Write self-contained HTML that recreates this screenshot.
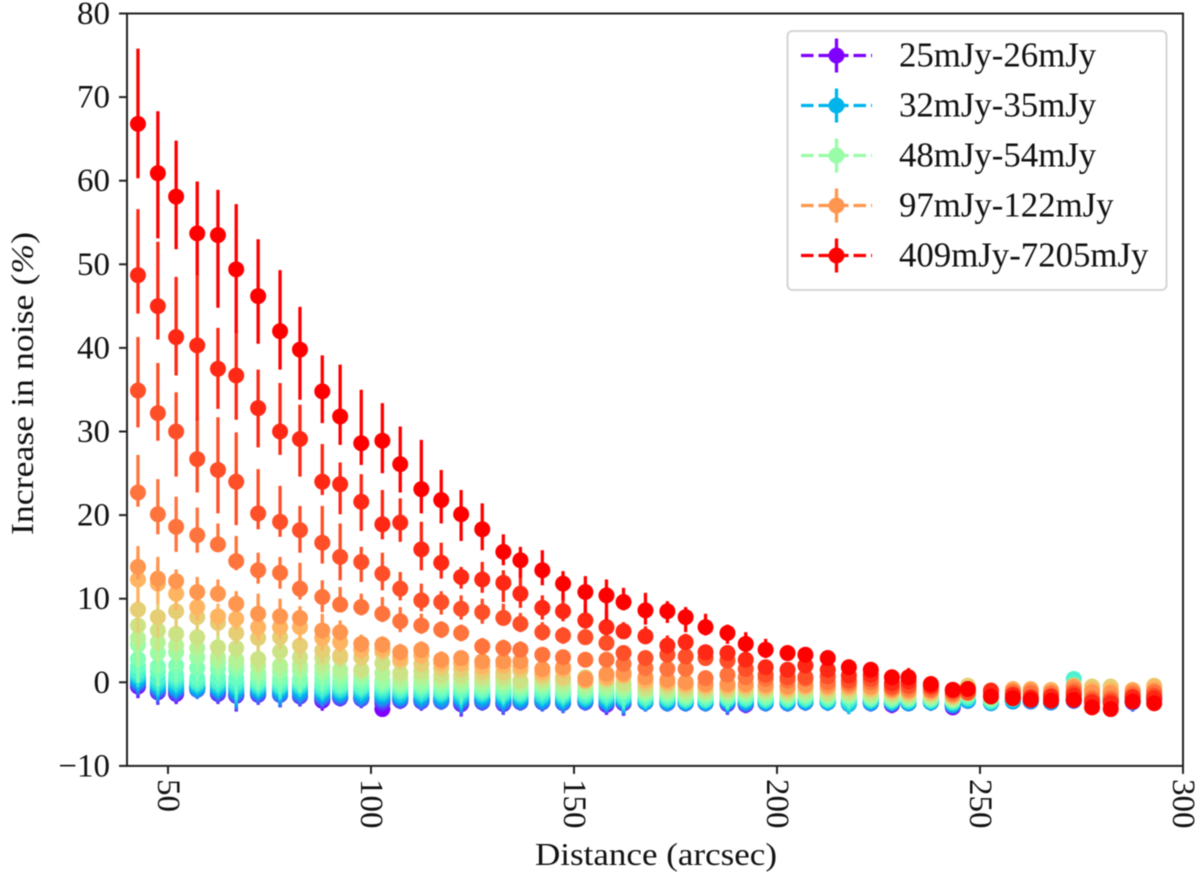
<!DOCTYPE html>
<html lang="en">
<head>
<meta charset="utf-8">
<title>Increase in noise vs distance</title>
<style>
  html, body { margin: 0; padding: 0; background: #fff; }
  #chart { display: block; width: 1200px; height: 880px; filter: blur(0.6px); }
  text { font-family: "Liberation Serif", serif; fill: #111; }
</style>
</head>
<body>
<svg id="chart" xmlns="http://www.w3.org/2000/svg" width="1200" height="880" viewBox="0 0 1200 880"></svg>
<script>
const distances = [42.6,47.5,52,57.2,62.3,66.8,72.2,77.6,82.5,88,92.4,97.6,102.8,107.2,112.4,117.3,122.2,127.4,132.6,136.8,142.2,147.3,152.8,158,162.2,167.6,173,177.5,182.4,187.8,192.3,197.2,202.6,207,212.5,217.7,223.1,228.3,232.4,237.9,243.3,247,252.7,258.1,262.5,267.5,273.1,277.6,282.2,287.6,292.9];
const xTickValues = [50,100,150,200,250,300];
const yTickValues = [-10,0,10,20,30,40,50,60,70,80];

const s00 = [-.5,-1,-1.4,-.6,-1.2,-1.6,-1.3,-1.3,-1.5,-2.2,-1.8,-1.9,-3.2,-1.9,-2,-1.9,-2.6,-2,-2.5,-2,-1.9,-2.2,-2.1,-2.7,-2.5,-2.1,-2,-2.1,-2,-2.4,-2.7,-1.9,-2,-2.1,-2.1,-2.2,-2.3,-2.7,-2.5,-2.1,-3,-2.1,-2.4,-2.2,-2.1,-2,-2,-2,-2,-2.2,-1.8];
const s01 = [-.4,-1.2,-1.3,-.7,-1.4,-1.6,-1.5,-1.5,-1.7,-2,-1.9,-2,-2.5,-2.2,-2.3,-2.2,-2.6,-2.2,-2.6,-2.2,-2.2,-2.4,-2.3,-2.6,-2.5,-2.3,-2.3,-2.5,-2.2,-2.6,-2.6,-2.2,-2.2,-2.2,-2.2,-2.3,-2.3,-2.6,-2.5,-2.3,-2.8,-2.2,-2.2,-2.2,-2.2,-2.2,-2.2,-2.3,-2.2,-2.4,-1.9];
const s02 = [-.2,-1,-1.1,-.6,-1.2,-1.5,-1.4,-1.5,-1.6,-1.9,-1.8,-1.9,-2.2,-2.1,-2.2,-2.3,-2.4,-2.4,-2.5,-2.4,-2.4,-2.5,-2.4,-2.5,-2.4,-2.4,-2.5,-2.5,-2.5,-2.5,-2.6,-2.5,-2.5,-2.4,-2.4,-2.5,-2.5,-2.5,-2.5,-2.4,-2.8,-2.2,-2.3,-2.2,-2.3,-2.4,-2.2,-2.2,-2.2,-2.3,-2];
const s03 = [0,-.8,-.9,-.9,-1,-1.3,-1.2,-1.4,-1.4,-1.7,-1.6,-1.8,-2,-2,-2.1,-2.2,-2.2,-2.2,-2.3,-2.3,-2.3,-2.4,-2.3,-2.4,-2.3,-2.4,-2.5,-2.5,-2.5,-2.4,-2.5,-2.5,-2.5,-2.4,-2.4,-2.6,-2.5,-2.5,-2.5,-2.4,-2.8,-2.2,-2.4,-2.3,-2.3,-2.4,-2.2,-2.2,-2.2,-2.3,-2];
const s04 = [.2,-.6,-.7,-.7,-.8,-1.1,-1,-1.2,-1.2,-1.5,-1.4,-1.6,-1.8,-1.8,-1.9,-2,-2,-2,-2.1,-2.1,-2.1,-2.2,-2.1,-2.3,-2.2,-2.3,-2.4,-2.4,-2.4,-2.3,-2.4,-2.4,-2.4,-2.3,-2.4,-2.6,-2.4,-2.4,-2.5,-2.4,-2.7,-2.2,-2.5,-2.3,-2.2,-2.4,-2.1,-2.2,-2.1,-2.3,-2];
const s05 = [.4,-.4,-.5,-.5,-.6,-.8,-.8,-.9,-.9,-1.2,-1.2,-1.3,-1.5,-1.6,-1.6,-1.7,-1.8,-1.7,-1.8,-1.9,-1.9,-2,-2,-2.1,-2.1,-2.2,-2.2,-2.3,-2.3,-2.2,-2.2,-2.3,-2.3,-2.2,-2.3,-2.5,-2.3,-2.4,-2.4,-2.3,-2.6,-2.1,-2.4,-2.2,-2.2,-2.3,-2,-2.1,-2.1,-2.2,-1.9];
const s06 = [.7,-.2,-.2,-.3,-.4,-.6,-.6,-.7,-.6,-1,-1,-1.1,-1.3,-1.4,-1.4,-1.5,-1.6,-1.5,-1.6,-1.7,-1.7,-1.8,-1.9,-1.9,-1.9,-2.1,-2.1,-2.2,-2.2,-2.1,-2.1,-2.2,-2.2,-2.1,-2.2,-2.5,-2.2,-2.3,-2.3,-2.2,-2.5,-2,-2.4,-2.1,-2.1,-2.2,-1.7,-2,-2.1,-2.1,-1.8];
const s07 = [.9,.1,.1,-.1,-.1,-.3,-.4,-.5,-.4,-.8,-.8,-.8,-1,-1.1,-1.2,-1.3,-1.3,-1.3,-1.4,-1.5,-1.5,-1.6,-1.7,-1.7,-1.8,-2,-2,-2.1,-2.1,-2,-2,-2.1,-2.1,-2,-2.1,-2.2,-2.1,-2.2,-2.2,-2.2,-2.4,-1.9,-2.3,-2,-2,-2.1,-1.3,-1.9,-2,-2,-1.7];
const s08 = [1.3,.5,.5,.1,.1,0,-.1,-.3,-.1,-.5,-.5,-.6,-.7,-.9,-.9,-1.1,-1.1,-1.1,-1.2,-1.3,-1.2,-1.4,-1.5,-1.5,-1.6,-1.8,-1.8,-2,-2,-1.9,-1.9,-2,-2,-1.9,-2,-2,-2,-2.1,-2.1,-2.1,-2.3,-1.8,-2.2,-1.9,-1.9,-2,.4,-1.8,-1.8,-1.9,-1.6];
const s09 = [1.9,1.3,.9,.5,.6,.5,.1,.1,.1,-.1,-.3,-.3,-.4,-.6,-.6,-.8,-.8,-.9,-.9,-1.1,-.9,-1.2,-1.2,-1.2,-1.3,-1.6,-1.6,-1.8,-1.8,-1.8,-1.7,-1.8,-1.9,-1.7,-1.9,-1.8,-1.9,-2,-2,-2,-2.2,-1.6,-2.1,-1.8,-1.8,-1.9,-.3,-1.7,-1.7,-1.8,-1.5];
const s10 = [2.8,1.9,2,1.7,1.6,1.5,.6,.5,.4,.5,.2,.2,-.1,-.4,-.4,-.5,-.5,-.6,-.6,-.8,-.6,-1,-1,-1,-1.1,-1.4,-1.4,-1.7,-1.6,-1.6,-1.5,-1.7,-1.7,-1.6,-1.7,-1.7,-1.8,-1.9,-1.9,-1.9,-2.1,-1.5,-2,-1.7,-1.7,-1.8,-.5,-1.6,-1.6,-1.7,-1.4];
const s11 = [4.5,3.5,3.6,3,2.4,2.1,1.1,1.3,1.4,1.2,.8,.7,.2,-.1,0,-.1,-.2,-.3,-.2,-.5,-.3,-.6,-.7,-.7,-.8,-1.2,-1.2,-1.5,-1.4,-1.4,-1.3,-1.4,-1.5,-1.4,-1.6,-1.5,-1.6,-1.8,-1.8,-1.8,-2.1,-1.4,-1.9,-1.6,-1.6,-1.7,-1.4,-1.5,-1.5,-1.6,-1.3];
const s12 = [5.3,4.8,4.4,4.1,3,2.7,2,2,2,1.9,1.5,1.3,1.1,.4,.6,.3,.3,.1,.1,-.2,0,-.2,-.4,-.3,-.5,-1,-1,-1.2,-1.2,-1.2,-1.1,-1.2,-1.4,-1.2,-1.4,-1.4,-1.5,-1.6,-1.6,-1.7,-2,-1.3,-1.7,-1.5,-1.5,-1.6,-1.3,-1.3,-1.4,-1.5,-1.2];
const s13 = [6.8,6.2,5.8,5.4,4.2,4.1,2.8,3.7,3,2.9,2.9,1.5,2.3,1.1,1.3,.8,.8,.6,.6,.2,.4,.3,.1,.2,-.1,-.7,-.6,-.9,-1,-1,-.9,-1,-1.2,-.9,-1.3,-1.2,-1.2,-1.4,-1.5,-1.5,-1.8,-1,-1.6,-1.3,-1.3,-1.4,-1.2,-1,-1.1,-1.3,-.9];
const s14 = [8.7,7.8,8.5,7.8,7.1,5.9,5.3,5.4,4.4,3.8,3.2,3,3.6,2.5,2.2,1.7,1.6,1.2,1.2,1.4,.8,.6,.6,.9,.9,-.2,-.2,-.5,-.6,-.7,-.6,-.7,-.9,-.6,-.8,-.8,-.9,-1.2,-1.3,-1.3,-1.7,-.4,-1.4,-1,-1,-1.2,-.8,-.5,-.5,-1.1,-.4];
const s15 = [12.3,11.8,10.6,9,7.9,7.6,6.6,6.6,6.6,5.3,4.8,3.9,4,2.9,3.2,2.3,2.3,1.9,2,1.9,1.2,1.5,.2,.5,.8,.2,0,-.2,-.4,-.4,-.4,-.5,-.7,-.5,-.6,-.6,-.7,-1,-1.1,-1.2,-1.6,-1,-1,-.8,-.8,-.9,-.4,-.9,-1,-.9,-.6];
const s16 = [13.8,12.4,12.1,10.8,10.6,9.4,8.2,7.9,7.7,6.2,6,4.6,4.5,3.6,3.9,2.7,2.9,2.5,2.5,2.5,1.6,1.8,.4,1,1.1,.6,.3,0,-.2,-.2,-.2,-.3,-.5,-.3,-.4,-.4,-.5,-.9,-1,-1,-1.5,-1.3,-1.2,-1,-1,-1.2,-.6,-1.2,-1.3,-1.1,-1];
const s17 = [22.7,20.1,18.6,17.6,16.5,14.5,13.4,13.1,11.2,10.2,9.3,9,8.2,7.3,6.8,6.3,5.9,4.3,4.1,3.9,3.3,3,2.7,2.7,2.2,1.7,1.6,1.6,.5,.9,.6,.4,.2,.4,0,-.1,0,-.7,-.7,-.9,-1.3,-1.1,-1,-1.2,-1.3,-1.4,-1,-1.9,-1.9,-1.4,-1.2];
const s18 = [34.9,32.2,30,26.7,25.4,24,20.2,19.2,18.2,16.7,15,14.4,13,11.2,9.8,9.6,8.8,8.4,7.7,7,6,5.6,5.4,4.7,3.5,2.9,3.3,3.1,2.9,2.6,1.6,.9,.6,.6,.7,.2,.4,-.5,-.4,-.6,-1.1,-1.2,-1.2,-1.7,-1.9,-1.9,-1.3,-2.2,-2.2,-1.7,-1.6];
const s19 = [48.7,45,41.3,40.3,37.5,36.7,32.8,30,29.1,24,23.7,21.6,18.9,19.1,15.9,14.3,12.6,12.3,11.9,10.6,8.9,8.5,7.4,6.6,6.1,5.5,4.4,4.8,3.6,3.5,2.7,1.8,1.5,2.0,1.5,.8,.9,-.1,.1,-.4,-.9,-.8,-1,-1.5,-1.8,-1.7,-1.6,-2.4,-2.5,-1.8,-1.9];
const s20 = [66.8,60.9,58.1,53.7,53.5,49.4,46.2,42.0,39.8,34.8,31.8,28.6,28.9,26.1,23.1,21.8,20.1,18.3,15.6,14.6,13.4,11.8,10.8,10.4,9.6,8.6,8.5,7.8,6.6,5.9,4.6,3.9,3.5,3.3,2.9,1.8,1.5,.6,.6,-.2,-.9,-.8,-1.7,-1.9,-2.1,-2.2,-2.1,-3,-3.2,-2.3,-2.5];

const errLowSeries = [1.4,1.5,1.2,1.1,1.2,1.9,1.2,1.5,1.2,1.2,1,1.1,.9,1,1.1,1,1.5,1,1.3,1,1.1,1.2,1,1.2,1.5,1.1,1,1,1,1.3,1,1,1,1,1,1.2,1,1,.9,1,.9,.9,.9,.9,.9,.9,.9,.9,.9,1.1,.9];
const errMidSeries = [2.8,2.4,2,1.6,1.5,1.3,1.5,1.4,1.6,1.5,1.2,1.1,1.1,1,1,1,1,.9,.9,.9,.9,.9,.9,.9,.9,.8,.8,.8,.8,.8,.8,.8,.8,.8,.8,.8,.8,.8,.8,.8,.8,.8,.8,.8,.8,.8,.8,.8,.8,.8,.8];
const s16Up = [2.5,2.6,1.4,1.8,1.7,1.5,2.4,2.1,1.4,2,1.4,1.1,1,1,1,1,.9,.9,.9,.9,.9,.9,.9,.9,.9,.8,.8,.8,.8,.8,.8,.8,.8,.8,.8,.8,.8,.8,.8,.8,.8,.8,.8,.8,.8,.8,.8,.8,.8,.8,.8];
const s16Down = [1.5,1.5,1,1,1,1,1,1,1,1,1,1,1,1,1,1,.9,.9,.9,.9,.9,.9,.9,.9,.9,.8,.8,.8,.8,.8,.8,.8,.8,.8,.8,.8,.8,.8,.8,.8,.8,.8,.8,.8,.8,.8,.8,.8,.8,.8,.8];
const s17Up = [4.5,4.2,3.6,3.3,2.5,3,2.1,1.9,3.1,2,2.1,1.6,2,1.7,1.4,1,1,1,1,1,.9,.9,.9,.9,.9,.9,.9,.9,.9,.9,.8,.8,.8,.8,.8,.8,.8,.8,.8,.8,.8,.8,.8,.8,.8,.8,.8,.8,.8,.8,.8];
const s17Down = [1.7,2.4,3,2.1,.8,1.1,1.6,1.9,1.3,1.8,.9,1,1,1.3,1,1,1,1,1,.9,.9,.9,.9,.9,.9,.9,.9,.9,.9,.9,.8,.8,.8,.8,.8,.8,.8,.8,.8,.8,.8,.8,.8,.8,.8,.8,.8,.8,.8,.8,.8];
const s18Up = [6.4,6,4.7,5,6.3,5.9,5.3,4.3,2.9,4.4,4,1.8,2.5,2,2,1.3,1.6,1.6,1.7,1.3,1.2,1,.9,.9,.9,.9,.9,.9,.9,.9,.8,.8,.8,.8,.8,.8,.8,.8,.8,.8,.8,.8,.8,.8,.8,.8,.8,.8,.8,.8,.8];
const s18Down = [4.4,3.3,5.4,4,5.2,5.2,1.9,1.8,2.7,2.5,2.8,2.4,2,1.4,1.3,1.5,1.3,1.4,.8,1,1,1,.9,.9,.9,.9,.9,.9,.9,.9,.8,.8,.8,.8,.8,.8,.8,.8,.8,.8,.8,.8,.8,.8,.8,.8,.8,.8,.8,.8,.8];
const s19Up = [7.9,7.7,7.2,8.5,4.9,5.4,4.6,5.8,4.1,4.5,2.6,3.3,4.1,2.9,3.3,2.4,1.2,2.1,1.5,2.9,1.5,2,2,2,1.1,1.2,1.2,1,.9,.9,.8,.8,.8,.8,.8,.8,.8,.8,.8,.8,.8,.8,.8,.8,.8,.8,.8,.8,.8,.8,.8];
const s19Down = [4.6,4,4.6,9,4.8,5.3,4.7,2.8,4.5,1.6,3.6,3.5,1.8,2.3,2.5,1.9,1.4,1.6,2.3,1.7,1.4,1.2,1,1,.9,.9,1,.9,.9,.9,.8,.8,.8,.8,.8,.8,.8,.8,.8,.8,.8,.8,.8,.8,.8,.8,.8,.8,.8,.8,.8];
const s20Up = [9,7.4,6.7,6.2,5.4,7.8,6.8,7.3,5.1,4.3,6.2,6.4,4.5,4.5,5.9,3.6,2.9,3.1,2.1,1.6,2.4,1.5,1.9,1.9,1.7,2.1,1.2,1.2,1.6,1,1.4,1.3,.8,.8,.9,.9,.8,.8,1.1,.8,.7,.7,.7,.7,.7,.7,.7,.7,.7,.7,.7];
const s20Down = [6.5,7.8,6.3,5,8.7,7.6,5.7,4.6,6,3.8,3.4,2.6,3.9,3.4,2.9,2.8,3.2,2.5,1.6,2.1,1.8,2,2.5,3,1,1.7,1.4,1.8,1,1.3,1,1,.8,.8,.8,.8,.8,.8,.8,.7,.7,.7,.7,.7,.7,.7,.7,.7,.7,.7,.7];

const seriesValues = [s00,s01,s02,s03,s04,s05,s06,s07,s08,s09,s10,s11,s12,s13,s14,s15,s16,s17,s18,s19,s20];
const errUp = [errLowSeries,errLowSeries,errLowSeries,errLowSeries,errLowSeries,errLowSeries,errLowSeries,errLowSeries,errLowSeries,errLowSeries,errMidSeries,errMidSeries,errMidSeries,errMidSeries,errMidSeries,errMidSeries,s16Up,s17Up,s18Up,s19Up,s20Up];
const errDown = [errLowSeries,errLowSeries,errLowSeries,errLowSeries,errLowSeries,errLowSeries,errLowSeries,errLowSeries,errLowSeries,errLowSeries,errMidSeries,errMidSeries,errMidSeries,errMidSeries,errMidSeries,errMidSeries,s16Down,s17Down,s18Down,s19Down,s20Down];
const legendLabels = ["25mJy-26mJy","32mJy-35mJy","48mJy-54mJy","97mJy-122mJy","409mJy-7205mJy"];
const legendSeries = [0,5,11,16,20];

const NS = "http://www.w3.org/2000/svg";
const svg = document.getElementById("chart");
const plot = { left: 127, right: 1183, top: 13.5, bottom: 765.9 };
const xDomain = [39.9, 300];
const yDomain = [-10, 80];
function xScale(v) { return plot.left + (v - xDomain[0]) / (xDomain[1] - xDomain[0]) * (plot.right - plot.left); }
function yScale(v) { return plot.bottom - (v - yDomain[0]) / (yDomain[1] - yDomain[0]) * (plot.bottom - plot.top); }
function rainbow(t) {
  const r = Math.min(1, Math.abs(2 * t - 0.5));
  const g = Math.sin(Math.PI * t);
  const b = Math.cos(Math.PI * t / 2);
  return "rgb(" + Math.round(r * 255) + "," + Math.round(g * 255) + "," + Math.round(b * 255) + ")";
}
function seriesColor(i) { return rainbow(i / (seriesValues.length - 1)); }
function make(tag, attrs, parent) {
  const el = document.createElementNS(NS, tag);
  for (const k in attrs) el.setAttribute(k, attrs[k]);
  parent.appendChild(el);
  return el;
}

const AXIS_COLOR = "#222";
const background = make("rect", { x: 0, y: 0, width: 1200, height: 880, fill: "#fff" }, svg);



const marks = make("g", {}, svg);



seriesValues.forEach(function (values, si) {
  const color = seriesColor(si);
  const g = make("g", {}, marks);
  
  
  distances.forEach(function (d, i) {
    const cx = xScale(d);
    const bar = make("line", {
      x1: cx, x2: cx,
      y1: yScale(values[i] + errUp[si][i]),
      y2: yScale(values[i] - errDown[si][i]),
      stroke: color, "stroke-width": 3.3
    }, g);
    
    
    const dot = make("circle", { cx: cx, cy: yScale(values[i]), r: 8, fill: color }, g);
    
    
  });
});

const frame = make("rect", {
  x: plot.left, y: plot.top, width: plot.right - plot.left, height: plot.bottom - plot.top,
  fill: "none", stroke: AXIS_COLOR, "stroke-width": 2
}, svg);



xTickValues.forEach(function (v) {
  const x = xScale(v);
  const tick = make("line", { x1: x, x2: x, y1: plot.bottom, y2: plot.bottom + 8, stroke: AXIS_COLOR, "stroke-width": 2 }, svg);
  
  
  const label = make("text", {
    x: 0, y: 0, "font-size": 33, "text-anchor": "start", "dominant-baseline": "central",
    transform: "translate(" + x + " 779) rotate(90)"
  }, svg);
  label.textContent = String(v);
  
  
});

yTickValues.forEach(function (v) {
  const y = yScale(v);
  const tick = make("line", { x1: plot.left - 8, x2: plot.left, y1: y, y2: y, stroke: AXIS_COLOR, "stroke-width": 2 }, svg);
  
  
  const label = make("text", { x: 110, y: y + 10.5, "font-size": 33, "text-anchor": "end" }, svg);
  label.textContent = v < 0 ? "\u2212" + Math.abs(v) : String(v);
  
  
});

const xTitle = make("text", { x: 535, y: 865, "font-size": 32, textLength: 242, lengthAdjust: "spacingAndGlyphs" }, svg);
xTitle.textContent = "Distance (arcsec)";



const yTitle = make("text", { x: 0, y: 0, "font-size": 32, transform: "translate(33 535) rotate(-90)", textLength: 303, lengthAdjust: "spacingAndGlyphs" }, svg);
yTitle.appendChild(document.createTextNode("Increase in noise ("));
const pct = make("tspan", { "font-style": "italic" }, yTitle);
pct.textContent = "%";
yTitle.appendChild(document.createTextNode(")"));



const legend = make("g", {}, svg);


const legendBox = make("rect", { x: 787.5, y: 31, width: 379, height: 259, rx: 5, ry: 5, fill: "#fff", "fill-opacity": 0.85, stroke: "#d5d5d5", "stroke-width": 2 }, legend);



const legendRowHeight = 50;
legendLabels.forEach(function (text, row) {
  const y = 55.5 + row * legendRowHeight;
  const color = seriesColor(legendSeries[row]);
  const entry = make("g", {}, legend);
  
  
  const dash = make("line", { x1: 801, x2: 872, y1: y, y2: y, stroke: color, "stroke-width": 3.3, "stroke-dasharray": "12.5 5" }, entry);
  
  
  const bar = make("line", { x1: 836.5, x2: 836.5, y1: y - 17, y2: y + 17, stroke: color, "stroke-width": 3.3 }, entry);
  
  
  const dot = make("circle", { cx: 836.5, cy: y, r: 8, fill: color }, entry);
  
  
  const label = make("text", { x: 899, y: y + 11, "font-size": 34.8 }, entry);
  label.textContent = text;
  
  
});
</script>
</body>
</html>
